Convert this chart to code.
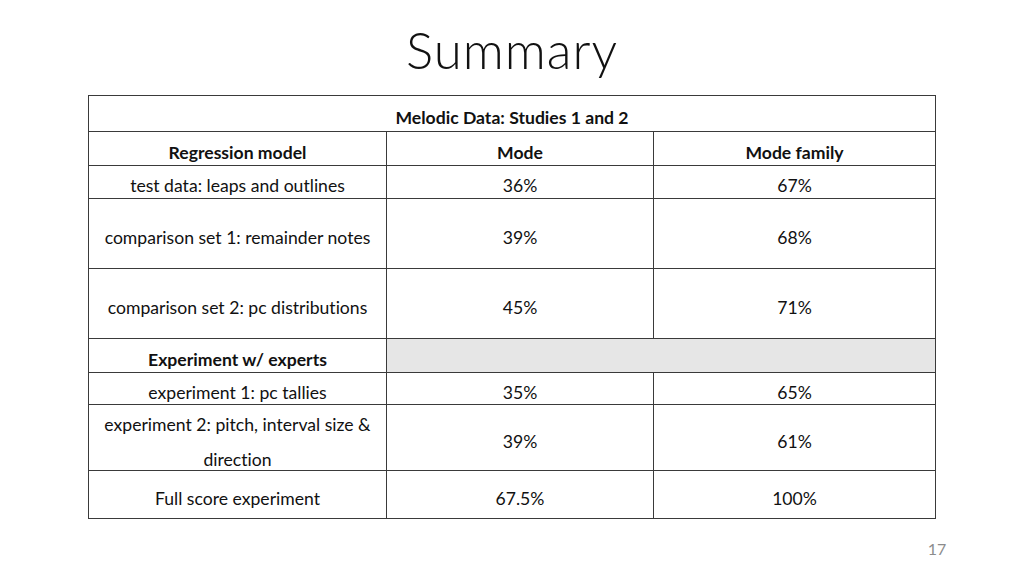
import React from 'react';

const TITLE = 'Summary';
const TABLE_HEADING = 'Melodic Data: Studies 1 and 2';
const COLUMN_LABELS = ['Regression model', 'Mode', 'Mode family'];

const MODEL_NAMES = [
  'test data: leaps and outlines',
  'comparison set 1: remainder notes',
  'comparison set 2: pc distributions',
];
const MODEL_MODE = ['36%', '39%', '45%'];
const MODEL_FAMILY = ['67%', '68%', '71%'];

const EXPERT_HEADING = 'Experiment w/ experts';
const EXPERIMENT_NAMES = [
  'experiment 1: pc tallies',
  'experiment 2: pitch, interval size &\ndirection',
  'Full score experiment',
];
const EXPERIMENT_MODE = ['35%', '39%', '67.5%'];
const EXPERIMENT_FAMILY = ['65%', '61%', '100%'];

const PAGE_NUMBER = '17';

// layout (px)
const COL_WIDTHS = [298, 267, 282];
const MODEL_ROW_HEIGHTS = [33, 70, 70];
const EXPERIMENT_ROW_HEIGHTS = [32, 66, 48];

const FONT = 'Lato, "Open Sans", sans-serif';
const LINE = '1px solid #3a3a3a';

const cell: React.CSSProperties = {
  border: LINE,
  padding: '8px 0 0 0',
  textAlign: 'center',
  verticalAlign: 'middle',
  fontSize: 17.6,
  color: '#111',
  lineHeight: '20px',
  fontVariantLigatures: 'none',
};

export default function App() {
  return (
    <div
      style={{
        position: 'absolute',
        left: 0,
        top: 0,
        width: 1024,
        height: 576,
        background: '#fff',
        fontFamily: FONT,
        overflow: 'hidden',
      }}
    >
      <div
        style={{
          position: 'absolute',
          left: 0,
          width: 1024,
          top: 19,
          textAlign: 'center',
          fontSize: 51,
          letterSpacing: 1,
          fontWeight: 300,
          color: '#111',
          fontFamily: 'Lato, sans-serif',
        }}
      >
        {TITLE}
      </div>

      <table
        style={{
          position: 'absolute',
          left: 88,
          top: 95,
          width: 847,
          borderCollapse: 'collapse',
          tableLayout: 'fixed',
          fontFamily: FONT,
        }}
      >
        <colgroup>
          {COL_WIDTHS.map((w, i) => (
            <col key={i} style={{ width: w }} />
          ))}
        </colgroup>
        <tbody>
          <tr style={{ height: 36 }}>
            <td colSpan={3} style={{ ...cell, fontWeight: 700, paddingTop: 9 }}>
              {TABLE_HEADING}
            </td>
          </tr>
          <tr style={{ height: 34 }}>
            {COLUMN_LABELS.map((c) => (
              <td key={c} style={{ ...cell, fontWeight: 700 }}>
                {c}
              </td>
            ))}
          </tr>
          {MODEL_NAMES.map((name, i) => (
            <tr key={name} style={{ height: MODEL_ROW_HEIGHTS[i] }}>
              <td style={cell}>{name}</td>
              <td style={cell}>{MODEL_MODE[i]}</td>
              <td style={cell}>{MODEL_FAMILY[i]}</td>
            </tr>
          ))}
          <tr style={{ height: 34 }}>
            <td style={{ ...cell, fontWeight: 700 }}>{EXPERT_HEADING}</td>
            <td colSpan={2} style={{ ...cell, background: '#e6e6e6' }} />
          </tr>
          {EXPERIMENT_NAMES.map((name, i) => {
            const wrapped = name.includes('\n');
            return (
              <tr key={name} style={{ height: EXPERIMENT_ROW_HEIGHTS[i] }}>
                <td
                  style={
                    wrapped
                      ? { ...cell, padding: 0, verticalAlign: 'top' }
                      : cell
                  }
                >
                  {wrapped ? (
                    <div
                      style={{
                        whiteSpace: 'pre-line',
                        lineHeight: '35px',
                        height: 62,
                        marginTop: 2,
                        overflow: 'visible',
                      }}
                    >
                      {name}
                    </div>
                  ) : (
                    name
                  )}
                </td>
                <td style={cell}>{EXPERIMENT_MODE[i]}</td>
                <td style={cell}>{EXPERIMENT_FAMILY[i]}</td>
              </tr>
            );
          })}
        </tbody>
      </table>

      <div
        style={{
          position: 'absolute',
          left: 920,
          width: 34,
          top: 539,
          textAlign: 'center',
          fontSize: 16,
          color: '#8c8c8c',
        }}
      >
        {PAGE_NUMBER}
      </div>
    </div>
  );
}
